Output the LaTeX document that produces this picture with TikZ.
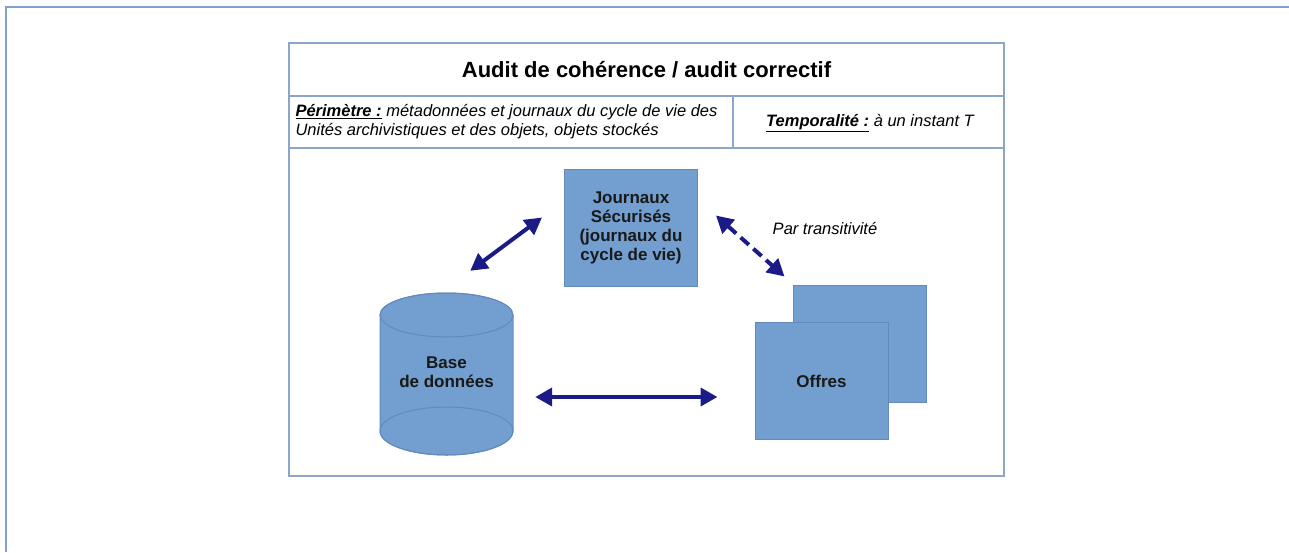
\documentclass[tikz,border=0pt]{standalone}
\usepackage{fontspec}
\setmainfont{Liberation Sans}
\usetikzlibrary{positioning, arrows.meta}
\definecolor{frameblue}{HTML}{7FA0D2}
\definecolor{tableline}{HTML}{8DA5CB}
\definecolor{shapefill}{HTML}{729FCF}
\definecolor{shapeline}{HTML}{6389BD}
\definecolor{arrownavy}{HTML}{1B1B87}
\tikzset{
	x=1pt, y=-1pt, % one unit per pixel, y going down
	shapebox/.style={draw=shapeline, line width=1pt, fill=shapefill, minimum width=133pt, minimum height=117pt}, % the blue squares
	shapetext/.style={font=\fontsize{17}{19}\selectfont\bfseries, align=center, text=black!90},
	biarrow/.style={{Triangle[length=17pt,width=18pt]}-{Triangle[length=17pt,width=18pt]}, line width=4pt, draw=arrownavy}, % thick double arrows
	rowtext/.style={font=\fontsize{16.5}{19}\selectfont\itshape},
}
\begin{document}
\begin{tikzpicture}
	\useasboundingbox (0,0) rectangle (1289,552);
	% page frame
	\draw[frameblue, line width=2pt] (1289,7) -- (6,7) -- (6,552);
	% table
	\draw[tableline, line width=1.5pt] (289,43) rectangle (1004,476);
	\draw[tableline, line width=1.5pt] (289,96) -- (1004,96) (289,148) -- (1004,148) (733,96) -- (733,148);
			\node[font=\fontsize{22}{26}\selectfont\bfseries] (title) at (646.5,70) {Audit de cohérence / audit correctif};
			\node[rowtext, anchor=west, align=left] (perim) at (292,122) {\textbf{\underline{Périmètre :}} métadonnées et journaux du cycle de vie des\\Unités archivistiques et des objets, objets stockés};
			\node[rowtext] (tempo) at (870,123) {\textbf{\underline{Temporalité :}} à un instant T};
	% shapes
			\node[shapebox, shapetext] (jrn) at (631,227.5) {Journaux\\Sécurisés\\(journaux du\\cycle de vie)};
			\node[shapebox] (offback) at (859.5,343.5) {};
			\node[shapebox, shapetext] (offres) at (821.5,381) {Offres};
	\path[draw=shapeline, line width=1pt, fill=shapefill] (380,315) -- (380,431) arc[start angle=180, end angle=0, x radius=66.5, y radius=24] -- (513,315) arc[start angle=0, end angle=-180, x radius=66.5, y radius=22] -- cycle;
	\draw[shapeline, line width=1pt] (446.5,315) ellipse[x radius=66.5, y radius=22] (446.5,431) ellipse[x radius=66.5, y radius=24];
			\node[shapetext, minimum width=133pt, minimum height=162pt] (db) at (446.5,372) {Base\\de données};
			\node[font=\fontsize{16.5}{19}\selectfont\itshape] (trans) at (825,228) {Par transitivité};
	% arrows
	\draw[biarrow] ([xshift=-43pt,yshift=20pt]db.north east) -- ([xshift=-22pt,yshift=10pt]jrn.west);
	\draw[biarrow, dash pattern=on 11pt off 6pt] ([xshift=18pt,yshift=12pt]jrn.east) -- ([xshift=-8pt,yshift=8pt]offback.north west);
	\draw[biarrow] ([xshift=22pt,yshift=-25pt]db.east) -- ([xshift=-37pt,yshift=-16pt]offres.west);
\end{tikzpicture}
\end{document}
